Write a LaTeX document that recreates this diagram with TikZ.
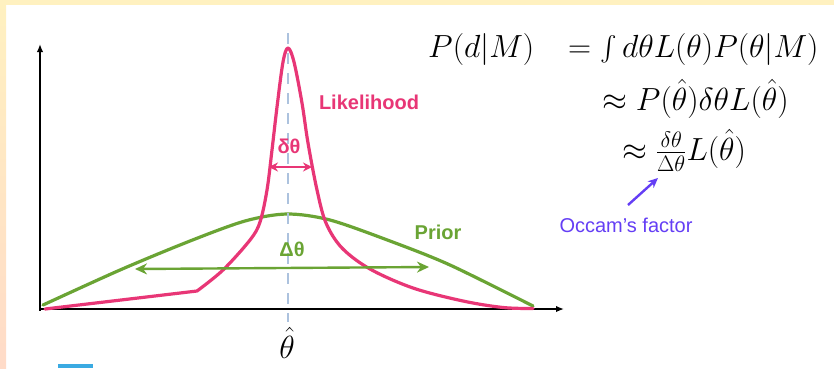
\RequirePackage{fix-cm}
\documentclass[tikz,border=0pt]{standalone}
\usepackage{fontspec}
\usepackage{amsmath}
\usepackage{tikz}
\usetikzlibrary{arrows.meta}
\newfontfamily\labelsans{Liberation Sans}
\definecolor{likepink}{RGB}{232,54,118}
\definecolor{priorgreen}{RGB}{106,164,52}
\definecolor{occpurple}{RGB}{100,62,245}
\definecolor{peakdash}{RGB}{172,194,222}
\definecolor{bandyellow}{RGB}{255,241,192}
\definecolor{bandpeach}{RGB}{255,219,200}
\definecolor{tabblue}{RGB}{58,170,226}

\begin{document}
\begin{tikzpicture}[
  x=1pt, y=-1pt,
  axis/.style={line width=1.6pt, -{Latex[length=8pt,width=6.5pt]}},
  curve/.style={line width=3.2pt, line join=round, line cap=round},
  lcurve/.style={curve, likepink},
  pcurve/.style={curve, priorgreen},
  span/.style={line width=2.4pt, {Stealth[length=12pt,width=11pt]}-{Stealth[length=12pt,width=11pt]}},
  tag/.style={font=\labelsans\bfseries\fontsize{20}{24}\selectfont, inner sep=0pt},
  eq/.style={font=\fontsize{32}{38}\selectfont, inner sep=0pt, anchor=base west}]
\useasboundingbox (0,0) rectangle (834,368);
% ---- slide frame ----
\fill[white] (0,0) rectangle (834,368);
\fill[bandyellow] (0,0) rectangle (834,5);
\shade[top color=bandyellow, bottom color=bandpeach] (0,0) rectangle (6,368);
\fill[tabblue] (58,364) rectangle (93,368);
% ---- axes ----
\coordinate (origin) at (40,309);
\coordinate (ytop) at (40,44);
\coordinate (xend) at (564,309);
\draw[axis] (40,310.5) -- (ytop);
\draw[axis] (origin) -- (xend);
% ---- prior ----
\draw[pcurve] plot[smooth, tension=.5] coordinates
  {(43,305) (120,270) (190,241) (245,221) (287,214) (330,220)
   (390,241) (450,265) (533,306)};
% ---- likelihood ----
\draw[lcurve] (45,309) -- plot[smooth, tension=.55] coordinates
  {(197,291) (223,270) (250,240) (260,222) (267,190) (272,150)
   (277,107) (283,62) (288,48) (294,62) (302,103) (308,143)
   (317,190) (326,223) (342,248) (370,269) (413,288) (463,301)
   (503,307.5) (533,308.5)};
% ---- widths ----
\coordinate (dl) at (269,167);
\coordinate (dr) at (312,167);
\draw[span, likepink, line width=2.2pt, {Stealth[length=9pt,width=9pt]}-{Stealth[length=9pt,width=9pt]}] (dl) -- (dr);
\coordinate (Dl) at (135,269);
\coordinate (Dr) at (429,267);
\draw[span, priorgreen] (Dl) -- (Dr);
% ---- peak marker ----
\coordinate (ptop) at (288,33);
\coordinate (pbot) at (288,322);
\draw[peakdash, line width=2.4pt, dash pattern=on 11pt off 9pt] (ptop) -- (pbot);
\node[inner sep=0pt, anchor=base, font=\fontsize{32}{38}\selectfont] (thetahat) at (287,358) {$\hat{\theta}$};
% ---- labels ----
\node[tag, likepink] (like) at (369,102) {Likelihood};
\node[tag, likepink] (dtheta) at (289,146) {δθ};
\node[tag, priorgreen] (Dtheta) at (292,249) {Δθ};
\node[tag, priorgreen] (prior) at (438,232) {Prior};
% ---- evidence ----
\node[eq] (lhs) at (428,57) {$P(d|M)$};
\node[eq] (row1) at (568,57) {$=\int d\theta L(\theta)P(\theta|M)$};
\node[eq] (row2) at (602,110) {$\approx P(\hat{\theta})\delta\theta L(\hat{\theta})$};
\node[eq] (row3) at (622,160) {$\approx \frac{\delta\theta}{\Delta\theta}L(\hat{\theta})$};
% ---- occam ----
\node[inner sep=0pt, occpurple, font=\labelsans\fontsize{20}{24}\selectfont] (occam) at (626,225) {Occam’s factor};
\coordinate (occtail) at (628,205);
\coordinate (occtip) at (658,178);
\draw[occpurple, line width=2.4pt, -{Stealth[length=10pt,width=9pt]}] (occtail) -- (occtip);
\end{tikzpicture}
\end{document}
